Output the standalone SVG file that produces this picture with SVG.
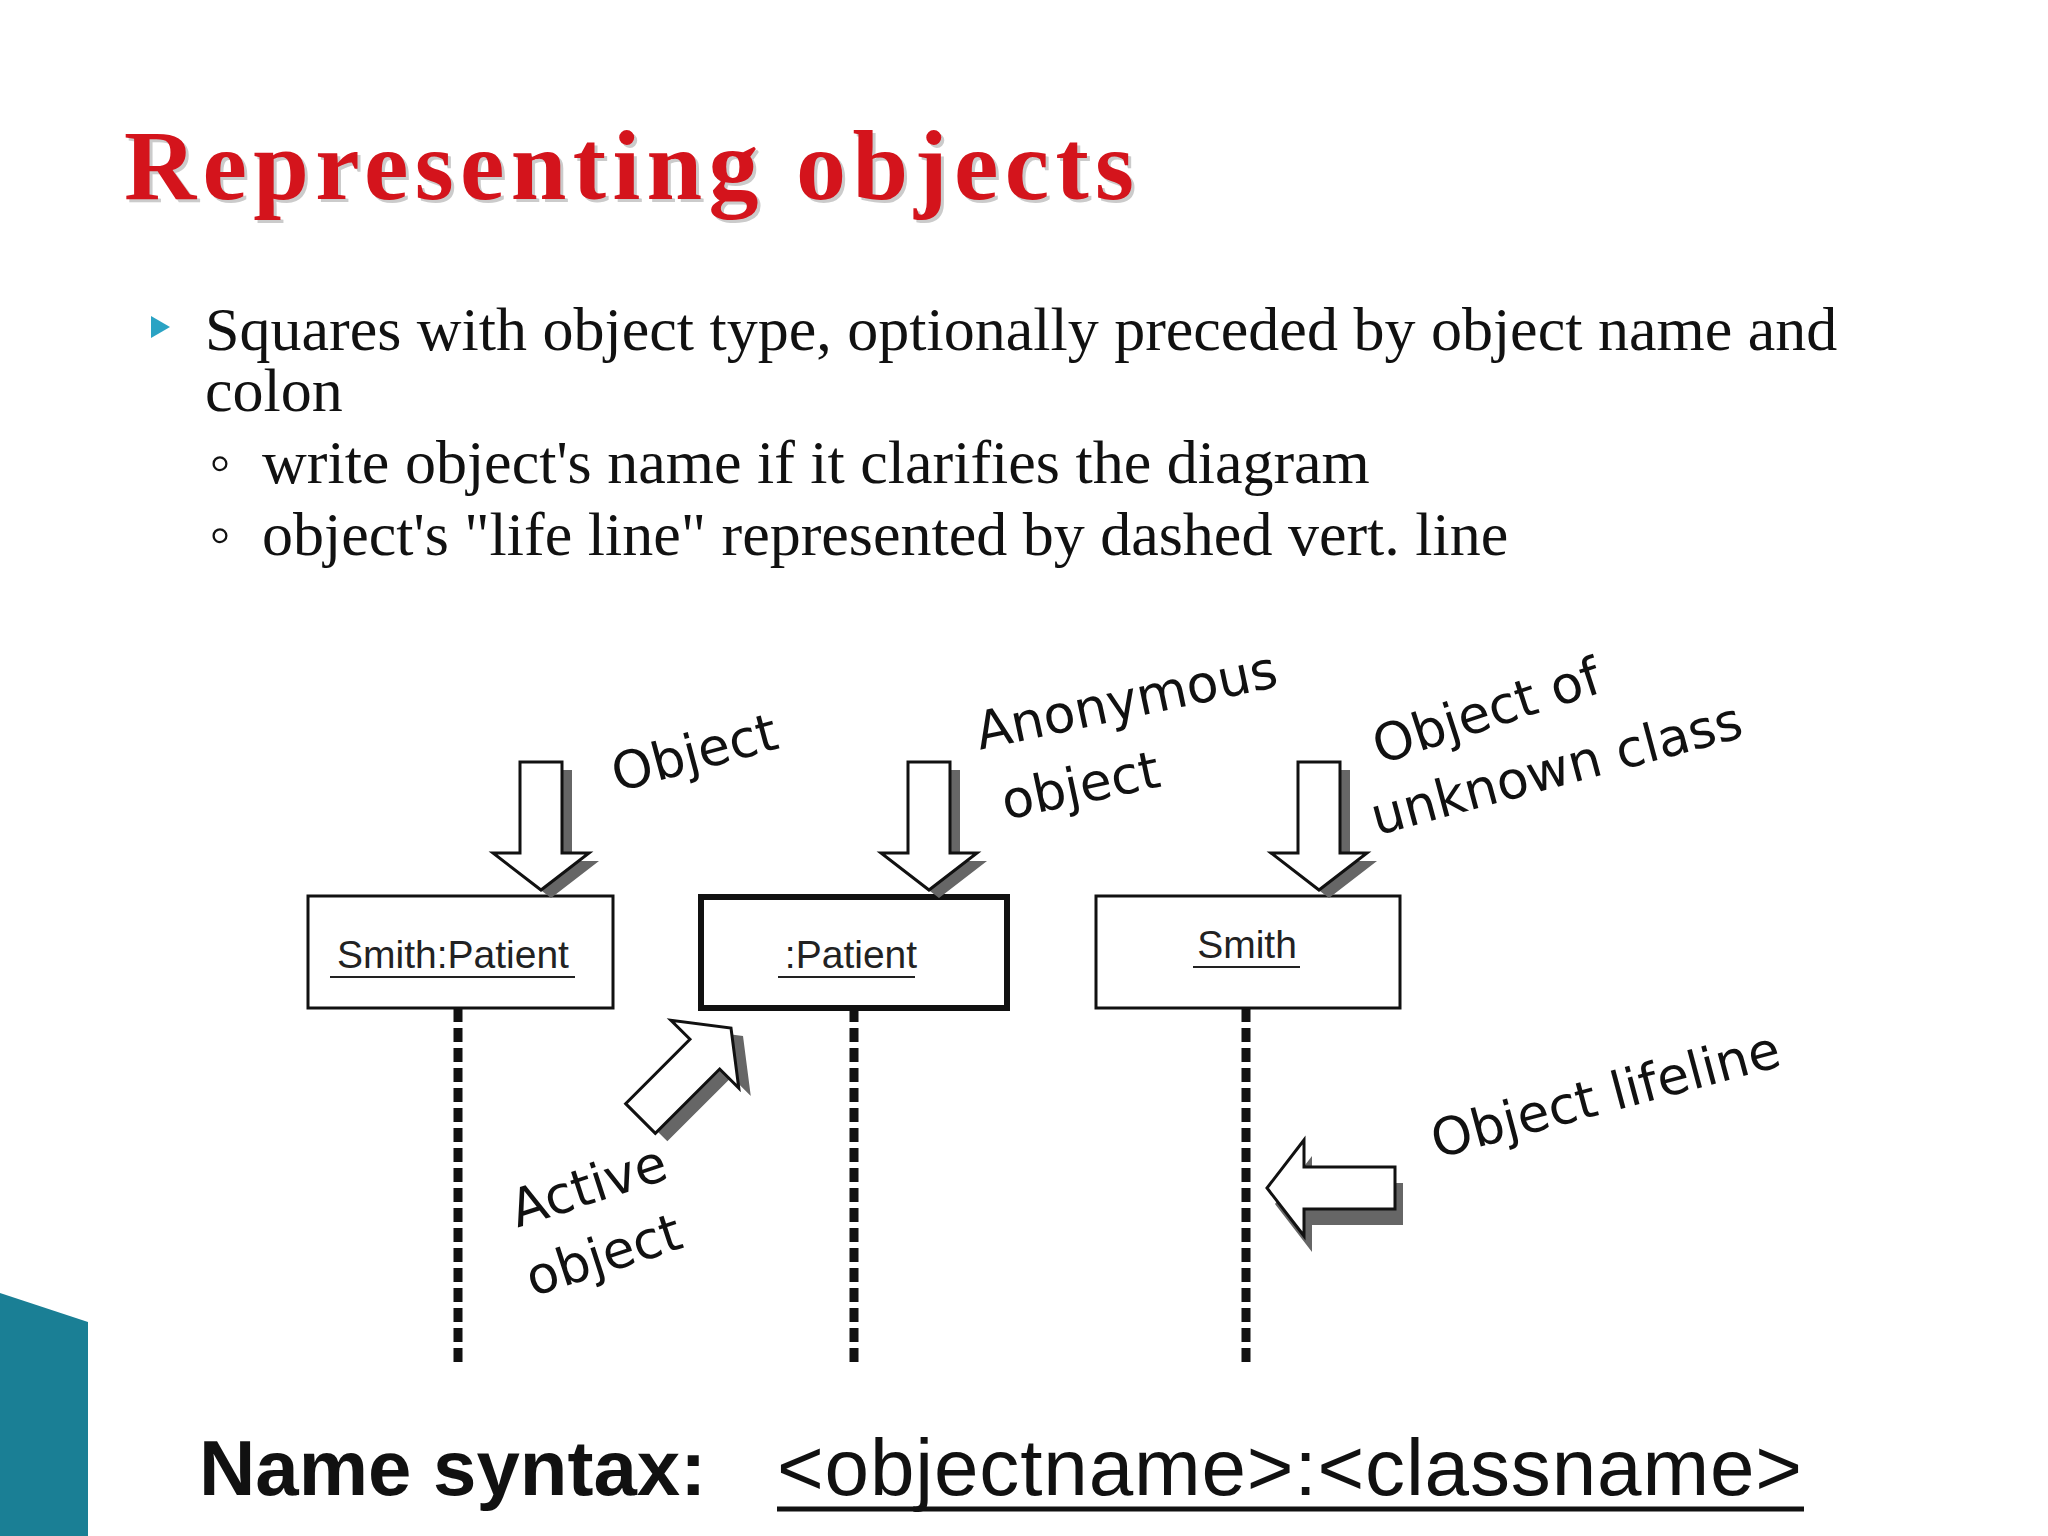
<svg xmlns="http://www.w3.org/2000/svg" width="2048" height="1536" viewBox="0 0 2048 1536">
<style>
.body{font-family:"Liberation Serif",serif;font-size:62px;fill:#111}
.hand{font-family:"DejaVu Sans",sans-serif;font-size:52px;fill:#111;text-anchor:middle}
.box{fill:#fff;stroke:#111;stroke-width:3}
.lbl{font-family:"Liberation Sans",sans-serif;font-size:39px;fill:#222;text-anchor:middle}
.life{stroke:#111;stroke-width:9;stroke-dasharray:14 6}
.arr{fill:#fff;stroke:#111;stroke-width:3}
.sh{fill:#666}
</style>
<defs>
<polygon id="a" points="-21,-128 21,-128 21,-37 48,-37 0,0 -48,-37 -21,-37"/>
</defs>
<rect width="2048" height="1536" fill="#fff"/>
<polygon points="0,1293 88,1322 88,1536 0,1536" fill="#1a7f95"/>
<text x="127" y="202" font-family="Liberation Serif,serif" font-weight="bold" font-size="100" fill="#999" opacity="0.5" textLength="1010">Representing objects</text>
<text x="124" y="199" font-family="Liberation Serif,serif" font-weight="bold" font-size="100" fill="#d4141c" textLength="1010">Representing objects</text>
<polygon points="151,316 151,338 170,327" fill="#2aa3c4"/>
<text class="body" x="205" y="350">Squares with object type, optionally preceded by object name and</text>
<text class="body" x="205" y="411">colon</text>
<text class="body" x="209" y="483" font-size="40">◦</text>
<text class="body" x="262" y="483">write object's name if it clarifies the diagram</text>
<text class="body" x="209" y="555" font-size="40">◦</text>
<text class="body" x="262" y="555">object's "life line" represented by dashed vert. line</text>
<g id="connectors">
<line class="life" x1="458" y1="1008" x2="458" y2="1362"/>
<line class="life" x1="854" y1="1008" x2="854" y2="1362"/>
<line class="life" x1="1246" y1="1008" x2="1246" y2="1362"/>
</g>
<g id="n1"><rect class="box" x="308" y="896" width="305" height="112"/><text class="lbl" x="453" y="968">Smith:Patient</text><line x1="330" y1="977" x2="575" y2="977" stroke="#222" stroke-width="2"/></g>
<g id="n2"><rect class="box" x="701" y="897" width="306" height="111" style="stroke-width:6"/><text class="lbl" x="851" y="968">:Patient</text><line x1="778" y1="977" x2="915" y2="977" stroke="#222" stroke-width="2"/></g>
<g id="n3"><rect class="box" x="1096" y="896" width="304" height="112"/><text class="lbl" x="1247" y="958">Smith</text><line x1="1193" y1="967" x2="1300" y2="967" stroke="#222" stroke-width="2"/></g>
<g id="arrows">
<use href="#a" class="sh" transform="translate(551,898)"/><use href="#a" class="arr" transform="translate(541,890)"/>
<use href="#a" class="sh" transform="translate(939,898)"/><use href="#a" class="arr" transform="translate(929,890)"/>
<use href="#a" class="sh" transform="translate(1329,898)"/><use href="#a" class="arr" transform="translate(1319,890)"/>
<use href="#a" class="sh" transform="translate(743,1036) rotate(-135)"/><use href="#a" class="arr" transform="translate(731,1028) rotate(-135)"/>
<use href="#a" class="sh" transform="translate(1275,1204) rotate(90)"/><use href="#a" class="arr" transform="translate(1267,1188) rotate(90)"/>
</g>
<g id="labels">
<text class="hand" transform="translate(699,770) rotate(-15)">Object</text>
<text class="hand" transform="translate(1130,718) rotate(-12)">Anonymous</text>
<text class="hand" transform="translate(1084,803) rotate(-12)">object</text>
<text class="hand" transform="translate(1492,728) rotate(-18)">Object of</text>
<text class="hand" transform="translate(1561,786) rotate(-15)">unknown class</text>
<text class="hand" transform="translate(1610,1112) rotate(-15)">Object lifeline</text>
<text class="hand" transform="translate(594,1203) rotate(-18)">Active</text>
<text class="hand" transform="translate(609,1272) rotate(-18)">object</text>
</g>
<text x="199" y="1495" font-family="Liberation Sans,sans-serif" font-weight="bold" font-size="78" fill="#111">Name syntax:</text>
<text x="777" y="1495" font-family="Liberation Sans,sans-serif" font-size="80" fill="#111" textLength="1025">&lt;objectname&gt;:&lt;classname&gt;</text>
<line x1="777" y1="1509" x2="1804" y2="1509" stroke="#111" stroke-width="5"/>
</svg>
